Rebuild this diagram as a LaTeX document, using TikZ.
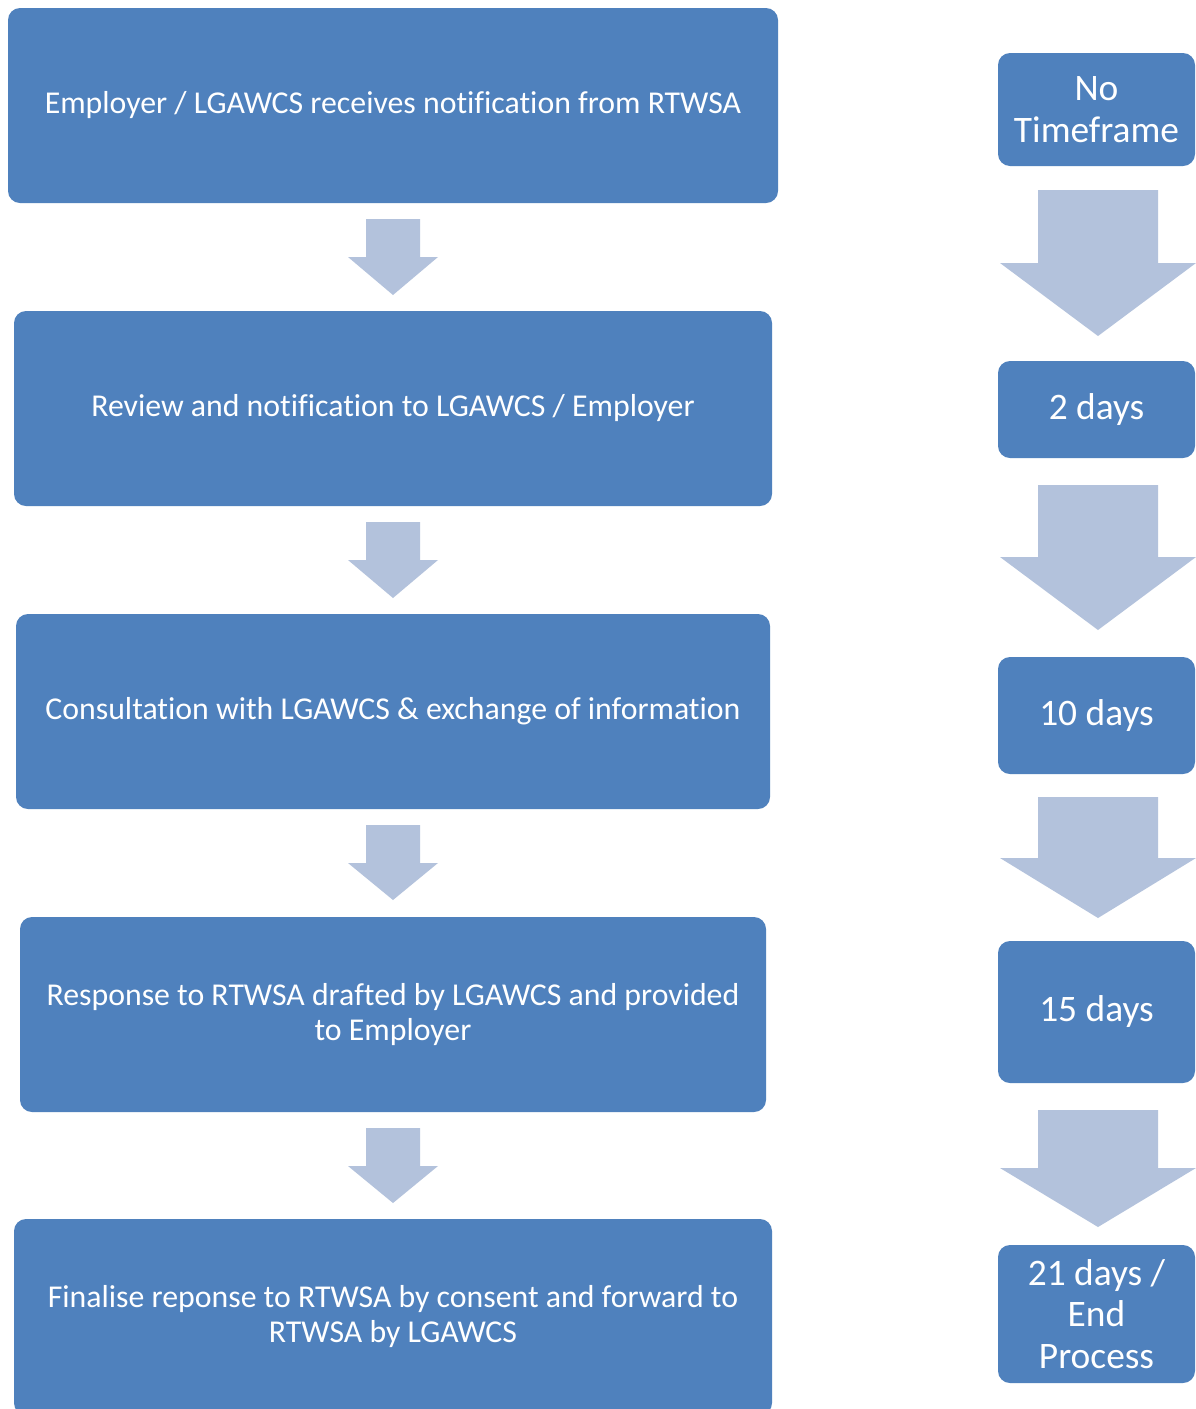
\documentclass[tikz,border=0pt]{standalone}
\usepackage{fontspec}
\setmainfont[Ligatures=NoCommon]{Carlito}
\definecolor{boxblue}{HTML}{4F81BD}
\definecolor{arrblue}{HTML}{B3C2DC}
\tikzset{
  stepbox/.style={fill=boxblue, draw=none, rounded corners=12pt, text=white, align=center, inner sep=0pt},
  leftfont/.style={font=\fontsize{31.8}{35}\selectfont},
  rightfont/.style={font=\fontsize{37.4}{41.5}\selectfont},
  blockarrow/.style={fill=arrblue, draw=none}
}
% \barrow{cx}{top}{shoulder}{tip}{shaft half}{head half}
\newcommand{\barrow}[6]{%
  \fill[blockarrow] (#1-#5,-#2) -- (#1+#5,-#2) -- (#1+#5,-#3) -- (#1+#6,-#3)
     -- (#1,-#4) -- (#1-#6,-#3) -- (#1-#5,-#3) -- cycle;}
\begin{document}
\begin{tikzpicture}[x=1pt,y=1pt]
\useasboundingbox (0,0) rectangle (1195,-1409);
\fill[white] (0,0) rectangle (1195,-1409);
% left boxes
\node[stepbox, leftfont, minimum width=770pt, minimum height=195pt] (b1) at (393,-105.5) {Employer / LGAWCS receives notification from RTWSA};
\node[stepbox, leftfont, minimum width=758pt, minimum height=195pt] (b2) at (393,-408.5) {Review and notification to LGAWCS / Employer};
\node[stepbox, leftfont, minimum width=754pt, minimum height=195pt] (b3) at (393,-711.5) {Consultation with LGAWCS \& exchange of information};
\node[stepbox, leftfont, minimum width=746pt, minimum height=195pt] (b4) at (393,-1014.5) {Response to RTWSA drafted by LGAWCS and provided\\to Employer};
\node[stepbox, leftfont, minimum width=758pt, minimum height=196pt] (b5) at (393,-1317) {Finalise reponse to RTWSA by consent and forward to\\RTWSA by LGAWCS};
% left arrows
\barrow{393}{219}{257}{295}{27}{45}
\barrow{393}{522}{560}{598}{27}{45}
\barrow{393}{825}{863}{900}{27}{45}
\barrow{393}{1128}{1166}{1203}{27}{45}
% right boxes
\node[stepbox, rightfont, minimum width=197pt, minimum height=113pt] (r1) at (1096.5,-109.5) {No\\Timeframe};
\node[stepbox, rightfont, minimum width=197pt, minimum height=97pt] (r2) at (1096.5,-409.5) {2 days};
\node[stepbox, rightfont, minimum width=197pt, minimum height=117pt] (r3) at (1096.5,-715.5) {10 days};
\node[stepbox, rightfont, minimum width=197pt, minimum height=142pt] (r4) at (1096.5,-1012) {15 days};
\node[stepbox, rightfont, minimum width=197pt, minimum height=138pt] (r5) at (1096.5,-1314) {21 days /\\End\\Process};
% right arrows
\barrow{1098}{190}{263}{336}{60}{98}
\barrow{1098}{485}{557}{630}{60}{98}
\barrow{1098}{797}{858}{918}{60}{98}
\barrow{1098}{1110}{1168}{1227}{60}{98}
\end{tikzpicture}
\end{document}
